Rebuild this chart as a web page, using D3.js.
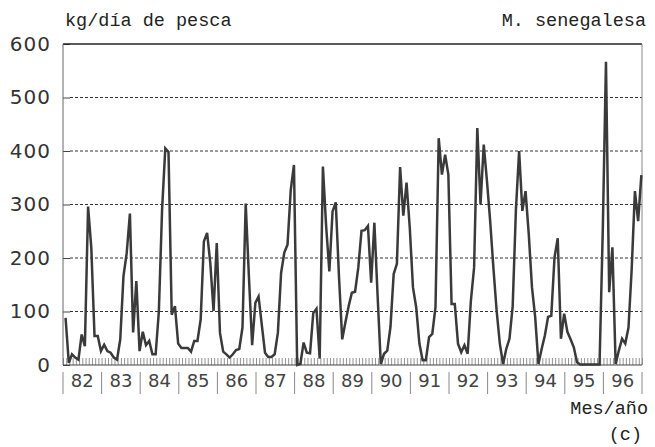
<!DOCTYPE html>
<html>
<head>
<meta charset="utf-8">
<script src="https://cdn.jsdelivr.net/npm/d3@7"></script>
<style>
  body { margin: 0; background: #fff; }
  svg { display: block; }
</style>
</head>
<body>
<svg id="chart" width="655" height="447"></svg>
<script>
// year labels on the x axis
const years = ["82","83","84","85","86","87","88","89","90","91","92","93","94","95","96"];
const yTicks = [0, 100, 200, 300, 400, 500, 600];

// kg/dia de pesca, one value per month, Jan 1982 .. Dec 1996
const kgDia = [
  88, 4, 20, 14, 10, 57, 35, 296, 219, 54, 54, 26,          // 82
  38, 26, 23, 14, 10, 48, 166, 209, 283, 61, 157, 26,       // 83
  62, 37, 45, 20, 20, 100, 290, 405, 398, 94, 110, 40,      // 84
  32, 32, 32, 25, 45, 45, 85, 231, 247, 190, 101, 228,      // 85
  60, 25, 20, 14, 20, 28, 30, 70, 302, 165, 37, 116,        // 86
  128, 75, 23, 15, 15, 20, 60, 172, 210, 225, 327, 374,     // 87
  0, 2, 42, 23, 22, 97, 105, 12, 371, 260, 175, 287,        // 88
  304, 165, 48, 80, 110, 135, 137, 182, 251, 252, 260, 154, // 89
  266, 130, 2, 21, 27, 71, 170, 189, 370, 279, 341, 257,    // 90
  145, 108, 40, 9, 9, 52, 58, 108, 424, 356, 393, 356,      // 91
  114, 114, 40, 24, 37, 21, 120, 182, 443, 300, 412, 344,   // 92
  269, 182, 102, 40, 2, 30, 49, 110, 290, 400, 288, 325,    // 93
  244, 145, 89, 2, 30, 55, 90, 92, 201, 237, 49, 96,        // 94
  62, 48, 33, 5, 1, 1, 1, 1, 1, 1, 1, 250,                  // 95
  567, 136, 220, 2, 27, 49, 40, 70, 180, 325, 269, 355      // 96
];

const svg = d3.select("#chart");
const mLeft = 63, mRight = 642, mTop = 44, mBottom = 365;
const nMonths = years.length * 12;

const x = d3.scaleLinear().domain([0, nMonths]).range([mLeft, mRight]);
const y = d3.scaleLinear().domain([0, 600]).range([mBottom, mTop]);

const mono = "'Liberation Mono', 'Courier New', monospace";
const sans = "'DejaVu Sans', sans-serif";

//dashed grid lines
svg.append("g").selectAll("line").data(yTicks.filter(d => d > 0 && d < 600)).enter().append("line")
  .attr("x1", mLeft + 7).attr("x2", mRight)
  .attr("y1", d => y(d)).attr("y2", d => y(d))
  .attr("stroke", "#333").attr("stroke-width", 1).attr("stroke-dasharray", "3,2");

//y axis (labels + short ticks)
const yAxis = svg.append("g").attr("transform", `translate(${mLeft},0)`)
  .call(d3.axisLeft(y).tickValues(yTicks).tickSize(-7).tickPadding(12));
yAxis.select(".domain").remove();
yAxis.selectAll("line").attr("stroke", "#444");
yAxis.selectAll("text").attr("font-family", sans).attr("font-size", 20)
  .attr("fill", "#333").attr("letter-spacing", "1px");

//month ticks along the bottom
const mAxis = svg.append("g").attr("transform", `translate(0,${mBottom})`)
  .call(d3.axisTop(x).tickValues(d3.range(0, nMonths + 1)).tickSize(7).tickFormat(""));
mAxis.select(".domain").remove();
mAxis.selectAll("line").attr("stroke", "#777").attr("stroke-width", 0.8);

//frame
svg.append("line").attr("x1", mLeft).attr("x2", mRight).attr("y1", mTop).attr("y2", mTop)
  .attr("stroke", "#222").attr("stroke-width", 1.5);
svg.append("line").attr("x1", mLeft).attr("x2", mLeft).attr("y1", mTop).attr("y2", mBottom)
  .attr("stroke", "#666").attr("stroke-width", 1);
svg.append("line").attr("x1", mRight).attr("x2", mRight).attr("y1", mTop).attr("y2", mBottom)
  .attr("stroke", "#888").attr("stroke-width", 1);
svg.append("line").attr("x1", mLeft).attr("x2", mRight).attr("y1", mBottom).attr("y2", mBottom)
  .attr("stroke", "#444").attr("stroke-width", 1.2);

//year separators and labels
const yearX = d3.scaleBand().domain(years).range([mLeft, mRight]);
svg.append("g").selectAll("line").data(d3.range(years.length + 1)).enter().append("line")
  .attr("x1", d => x(d * 12)).attr("x2", d => x(d * 12))
  .attr("y1", 372).attr("y2", 394)
  .attr("stroke", "#888").attr("stroke-width", 1);
svg.append("g").selectAll("text").data(years).enter().append("text")
  .attr("x", d => yearX(d) + yearX.bandwidth() / 2)
  .attr("y", 387)
  .attr("text-anchor", "middle")
  .attr("font-family", sans).attr("font-size", 18).attr("fill", "#444")
  .text(d => d);

//the series
const line = d3.line().x((d, i) => x(i + 0.8)).y(d => y(d));
svg.append("path").datum(kgDia)
  .attr("d", line)
  .attr("fill", "none").attr("stroke", "#3a3a3a").attr("stroke-width", 2.5)
  .attr("stroke-linejoin", "miter");

//titles
svg.append("text").attr("x", 65).attr("y", 26)
  .attr("font-family", mono).attr("font-size", 18.5).attr("fill", "#222")
  .text("kg/día de pesca");
svg.append("text").attr("x", 646).attr("y", 26).attr("text-anchor", "end")
  .attr("font-family", mono).attr("font-size", 18.5).attr("fill", "#222")
  .text("M. senegalesa");
svg.append("text").attr("x", 648).attr("y", 414).attr("text-anchor", "end")
  .attr("font-family", mono).attr("font-size", 18.5).attr("fill", "#222")
  .text("Mes/año");
svg.append("text").attr("x", 642).attr("y", 440).attr("text-anchor", "end")
  .attr("font-family", mono).attr("font-size", 18.5).attr("fill", "#222")
  .text("(c)");
</script>
</body>
</html>
